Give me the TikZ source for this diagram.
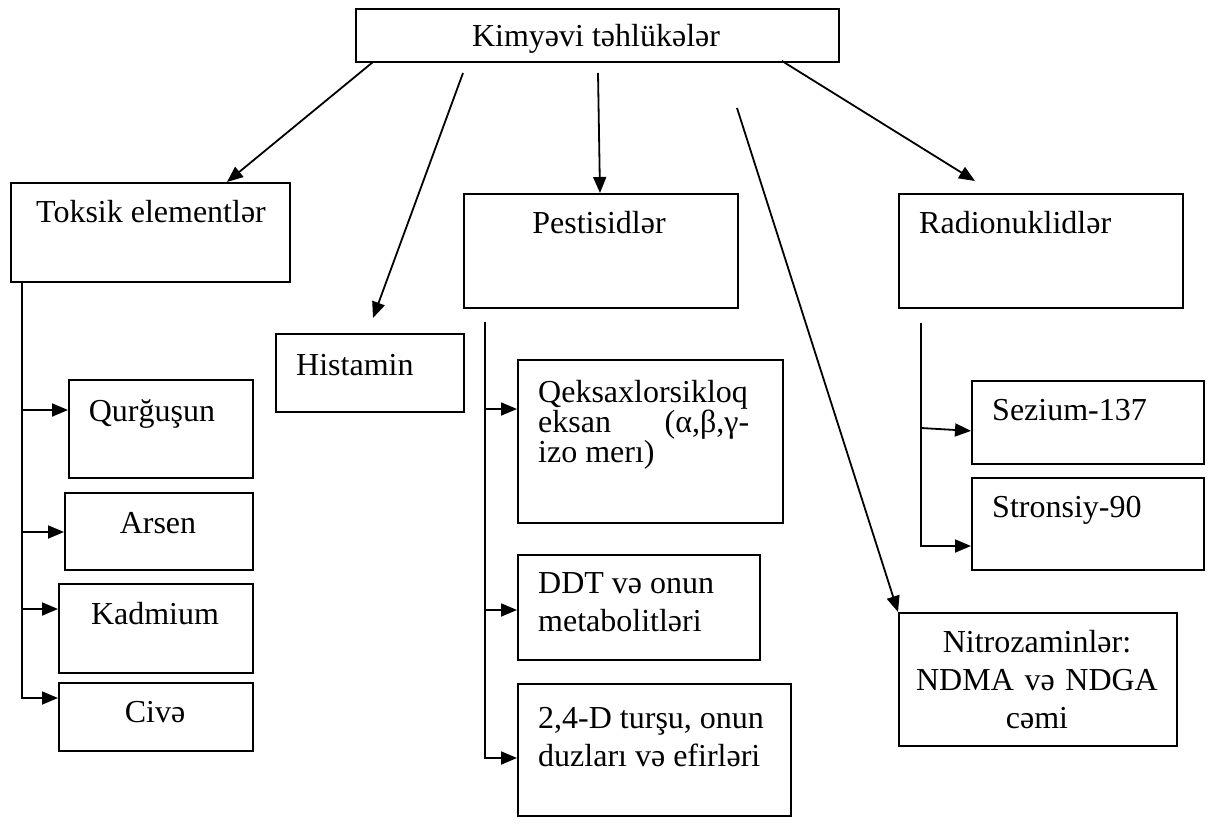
\documentclass[tikz,border=0pt]{standalone}
\usepackage{fontspec}
\setmainfont{Liberation Serif}
\usetikzlibrary{arrows.meta}
\begin{document}
\begin{tikzpicture}[x=1pt,y=-1pt,
  box/.style={draw,line width=1.8pt,inner sep=0pt,anchor=north west},
  txt/.style={font=\fontsize{32}{38}\selectfont,inner sep=0pt},
  arr/.style={line width=1.8pt,-{Triangle[length=16pt,width=13pt]}},
  ln/.style={line width=1.8pt}]
\useasboundingbox (0,0) rectangle (1216,825);
% boxes
\node[box,minimum width=483pt,minimum height=53pt] (top) at (355,8) {};
\node[txt,anchor=base] (topt) at (596,46) {Kimyəvi təhlükələr};
\node[box,minimum width=279pt,minimum height=99pt] (tok) at (10,182) {};
\node[txt,anchor=base] (tokt) at (151,222) {Toksik elementlər};
\node[box,minimum width=184pt,minimum height=98pt] (qurg) at (68,379) {};
\node[txt,anchor=base] (qurgt) at (152,421) {Qurğuşun};
\node[box,minimum width=188pt,minimum height=77pt] (ars) at (64,492) {};
\node[txt,anchor=base] (arst) at (158,533) {Arsen};
\node[box,minimum width=194pt,minimum height=89pt] (kad) at (58,583) {};
\node[txt,anchor=base] (kadt) at (155,624) {Kadmium};
\node[box,minimum width=194pt,minimum height=68pt] (civa) at (58,682) {};
\node[txt,anchor=base] (civat) at (155,722) {Civə};
\node[box,minimum width=188pt,minimum height=78pt] (hist) at (275,333) {};
\node[txt,anchor=base west] (histt) at (296,375) {Histamin};
\node[box,minimum width=274pt,minimum height=114pt] (pest) at (463,193) {};
\node[txt,anchor=base] (pestt) at (599,233) {Pestisidlər};
\node[box,minimum width=265pt,minimum height=163pt] (qeks) at (517,359) {};
\node[txt,anchor=base west,text width=211pt,align=flush left,font=\fontsize{32}{28.3}\selectfont] (qekst) at (538,402)
  {Qeksaxlorsikloq\\eksan\hfill(α,β,γ-\\izo merı)};
\node[box,minimum width=242pt,minimum height=105pt] (ddt) at (517,554) {};
\node[txt,anchor=base west,text width=230pt,align=flush left] (ddtt) at (538,593) {DDT və onun\\metabolitləri};
\node[box,minimum width=273pt,minimum height=132pt] (d24) at (517,683) {};
\node[txt,anchor=base west,text width=260pt,align=flush left] (d24t) at (538,728) {2,4-D turşu, onun\\duzları və efirləri};
\node[box,minimum width=284pt,minimum height=114pt] (radio) at (898,193) {};
\node[txt,anchor=base west] (radiot) at (919,233) {Radionuklidlər};
\node[box,minimum width=232pt,minimum height=83pt] (sez) at (971,380) {};
\node[txt,anchor=base west] (sezt) at (992,420) {Sezium-137};
\node[box,minimum width=232pt,minimum height=92pt] (stron) at (971,477) {};
\node[txt,anchor=base west] (stront) at (992,517) {Stronsiy-90};
\node[box,minimum width=278pt,minimum height=133pt] (nitro) at (898,612) {};
\node[txt,anchor=base,text width=270pt,align=center] (nitrot) at (1037,652) {Nitrozaminlər:\\NDMA və NDGA\\cəmi};
% connectors from the top box
\coordinate (s1) at (373,62);
\coordinate (s2) at (463,73);
\coordinate (s3) at (598,73);
\coordinate (s4) at (737,108);
\coordinate (s5) at (782,61);
\draw[arr] (s1) -- ([xshift=217pt]tok.north west);
\draw[arr] (s2) -- ([xshift=98pt,yshift=15pt]hist.north west);
\draw[arr] (s3) -- ([xshift=137pt]pest.north west);
\draw[arr] (s4) -- (nitro.north west);
\draw[arr] (s5) -- ([xshift=77pt,yshift=12pt]radio.north west);
% toksik branches
\coordinate (tb) at (22,698);
\coordinate (t1) at (22,410);
\coordinate (t2) at (22,532);
\coordinate (t3) at (22,609);
\draw[arr] ([xshift=12pt]tok.south west) |- (civa.west |- tb);
\draw[arr] (t1) -- (qurg.west |- t1);
\draw[arr] (t2) -- (ars.west |- t2);
\draw[arr] (t3) -- (kad.west |- t3);
% pestisid branches
\coordinate (pv) at (485,322);
\coordinate (pb) at (485,758);
\coordinate (p1) at (485,409);
\coordinate (p2) at (485,610);
\draw[arr] (pv) |- (d24.west |- pb);
\draw[arr] (p1) -- (qeks.west |- p1);
\draw[arr] (p2) -- (ddt.west |- p2);
% radionuklid branches
\coordinate (rv) at (921,323);
\coordinate (rb) at (921,546);
\coordinate (r1) at (921,428);
\draw[arr] (rv) |- (stron.west |- rb);
\draw[arr] (r1) -- ([yshift=-8.5pt]sez.west);
\end{tikzpicture}
\end{document}
